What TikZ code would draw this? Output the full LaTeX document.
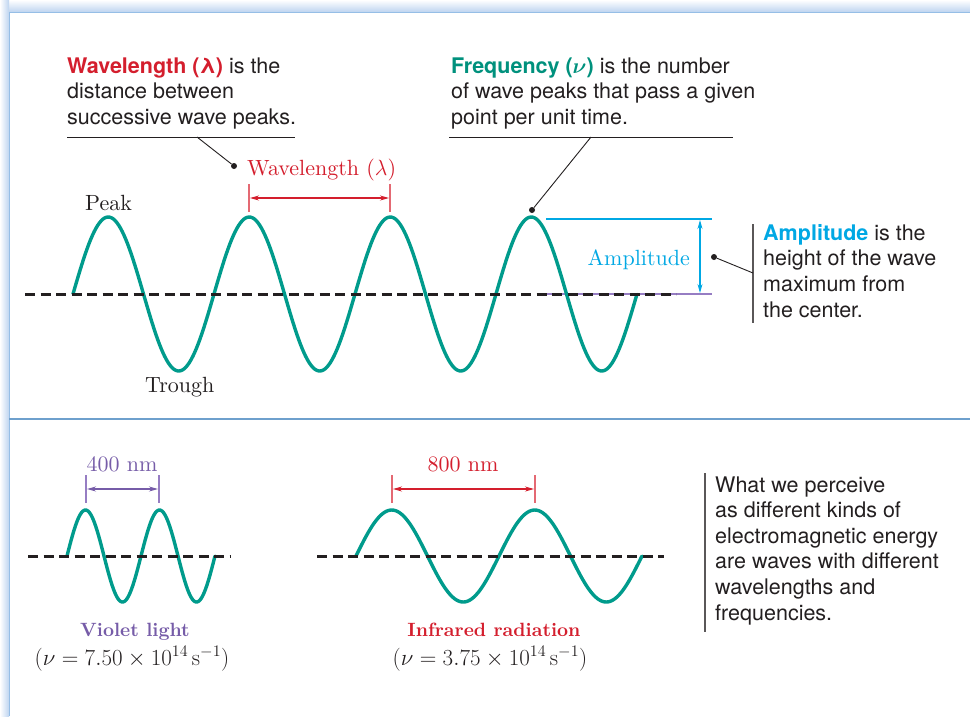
\RequirePackage{fix-cm}
\documentclass[tikz,border=0pt]{standalone}
\usepackage{fontspec}
\newfontfamily\hv{TeX Gyre Heros}
\newfontfamily\lmten{lmroman10-regular.otf}[BoldFont=lmroman10-bold.otf]
\usetikzlibrary{arrows.meta}
\definecolor{wave}{RGB}{0,155,140}
\definecolor{wred}{RGB}{212,30,45}
\definecolor{wredl}{RGB}{228,105,115}
\definecolor{fteal}{RGB}{0,145,125}
\definecolor{amp}{RGB}{0,168,228}
\definecolor{vio}{RGB}{118,92,168}
\definecolor{viol}{RGB}{150,125,195}
\definecolor{ink}{RGB}{35,31,32}
\definecolor{shadowc}{RGB}{190,212,240}
\definecolor{borderc}{RGB}{150,190,230}
\definecolor{divc}{RGB}{110,160,205}
\tikzset{
  x=1pt, y=-1pt,
  wavel/.style={draw=wave, line width=3.4pt, line cap=round},
  axisdash/.style={draw=ink, line width=3pt, dash pattern=on 10pt off 5.5pt},
  sans/.style={font=\hv\fontsize{21.5}{25.6}\selectfont, text=ink, align=left, inner sep=0pt, anchor=base west},
  serif/.style={font=\lmten\fontsize{22}{26}\selectfont, inner sep=0pt, anchor=base},
  serifb/.style={font=\lmten\fontsize{19.2}{23}\selectfont\bfseries, inner sep=0pt, anchor=base, text depth=0pt},
  formula/.style={font=\fontsize{23}{27}\selectfont, text=ink, inner sep=0pt, anchor=base},
  leader/.style={draw=ink, line width=0.9pt},
  dotst/.style={circle, fill=ink, inner sep=0pt, minimum size=6pt},
  marker/.style={line width=1.1pt},
  dimarrow/.style={line width=1.1pt, {Stealth[length=9pt,width=5pt]}-{Stealth[length=9pt,width=5pt]}},
  bar/.style={draw=ink!75, line width=1.3pt},
  uline/.style={draw=ink, line width=1pt}
}
\begin{document}
\begin{tikzpicture}
\useasboundingbox (0,0) rectangle (970,716);
% frame
\fill[white] (0,0) rectangle (970,716);
\shade[top color=white, bottom color=shadowc] (0,0) rectangle (970,12);
\shade[left color=white, right color=shadowc] (0,0) rectangle (9,716);
\fill[white] (9,12) rectangle (970,716);
\draw[borderc, line width=1pt] (9,716) -- (9,12) -- (970,12);
\draw[divc, line width=1.5pt] (9,419) -- (970,419);

% ===== top panel =====
% (multi-line nodes: base anchor = baseline of last line)
\node[sans] (wtxt) at (67,124.5) {{\bfseries\color{wred}Wavelength (λ)} is the\\distance between\\successive wave peaks.};
\coordinate (wul) at (67,137); \coordinate (wur) at (295,137);
\draw[uline] (wul) -- (wur);
\coordinate (wlead) at (197,137);
\node[dotst] (wdot) at (234,166) {};
\draw[leader] (wlead) -- (wdot);

\node[sans] (ftxt) at (451,124.5) {{\bfseries\color{fteal}Frequency ({\boldmath$\nu$})} is the number\\of wave peaks that pass a given\\point per unit time.};
\coordinate (ful) at (449,137); \coordinate (fur) at (733,137);
\draw[uline] (ful) -- (fur);
\coordinate (flead) at (591,137);
\node[dotst] (fdot) at (532,210) {};
\draw[leader] (flead) -- (fdot);

% amplitude guides
\coordinate (at1) at (546,219); \coordinate (at2) at (712,219);
\coordinate (ab1) at (546,294); \coordinate (ab2) at (712,294);
\draw[amp, line width=1.1pt] (at1) -- (at2);
\draw[viol, line width=1.1pt] (ab1) -- (ab2);
\coordinate (aa1) at (700,220); \coordinate (aa2) at (700,293);
\draw[amp, dimarrow] (aa1) -- (aa2);
\node[serif, anchor=base east, text=amp] (alab) at (690,265) {Amplitude};

% main wave
\draw[wavel] plot[domain=0:4, samples=321] ({73+141*\x},{294-77*sin(360*\x)});
\coordinate (ml) at (25,294); \coordinate (mr) at (676,294);
\draw[axisdash] (ml) -- (mr);

\node[serif, anchor=base west, text=ink] (peak) at (85,210) {Peak};
\node[serif, anchor=base west, text=ink] (trough) at (145,392) {Trough};

% wavelength dimension
\node[serif, anchor=base west, text=wred] (wlab) at (247,175) {Wavelength ($\lambda$)};
\coordinate (m1t) at (249,184); \coordinate (m1b) at (249,212);
\coordinate (m2t) at (390,184); \coordinate (m2b) at (390,212);
\draw[wredl, marker] (m1t) -- (m1b);
\draw[wredl, marker] (m2t) -- (m2b);
\coordinate (wa1) at (250,198); \coordinate (wa2) at (389,198);
\draw[wred, dimarrow] (wa1) -- (wa2);

% amplitude text
\coordinate (abt) at (753,224); \coordinate (abb) at (753,323);
\draw[bar] (abt) -- (abb);
\node[dotst] (adot) at (714,257) {};
\coordinate (alead) at (753,273);
\draw[leader] (adot) -- (alead);
\node[sans] (atxt) at (763,317) {{\bfseries\color{amp}Amplitude} is the\\height of the wave\\maximum from\\the center.};

% ===== bottom panel =====
% violet
\draw[wavel] plot[domain=0:2, samples=161] ({67+74*\x},{556-46*sin(360*\x)});
\coordinate (vl) at (28,556); \coordinate (vr) at (231,556);
\draw[axisdash] (vl) -- (vr);
\coordinate (v1t) at (86,475); \coordinate (v1b) at (86,503);
\coordinate (v2t) at (159,475); \coordinate (v2b) at (159,503);
\draw[viol, marker] (v1t) -- (v1b);
\draw[viol, marker] (v2t) -- (v2b);
\coordinate (va1) at (87,489); \coordinate (va2) at (158,489);
\draw[vio, dimarrow] (va1) -- (va2);
\node[serif, text=vio] (v400) at (122,471) {400 nm};
\node[serifb, text=vio] (vname) at (135,636.5) {Violet light};
\node[formula] (vform) at (132,665) {$(\nu = 7.50 \times 10^{14}\,\mathrm{s}^{-1})$};

% infrared
\draw[wavel] plot[domain=0:2, samples=161] ({356+143*\x},{556-46*sin(360*\x)});
\coordinate (il) at (317,556); \coordinate (ir) at (664,556);
\draw[axisdash] (il) -- (ir);
\coordinate (i1t) at (392,475); \coordinate (i1b) at (392,503);
\coordinate (i2t) at (535,475); \coordinate (i2b) at (535,503);
\draw[wredl, marker] (i1t) -- (i1b);
\draw[wredl, marker] (i2t) -- (i2b);
\coordinate (ia1) at (393,489); \coordinate (ia2) at (534,489);
\draw[wred, dimarrow] (ia1) -- (ia2);
\node[serif, text=wred] (i800) at (463,471) {800 nm};
\node[serifb, text=wred] (iname) at (494,636.5) {Infrared radiation};
\node[formula] (iform) at (490,665) {$(\nu = 3.75 \times 10^{14}\,\mathrm{s}^{-1})$};

% right text
\coordinate (bbt) at (705,473); \coordinate (bbb) at (705,632);
\draw[bar] (bbt) -- (bbb);
\node[sans] (btxt) at (715,620) {What we perceive\\as different kinds of\\electromagnetic energy\\are waves with different\\wavelengths and\\frequencies.};
\end{tikzpicture}
\end{document}
